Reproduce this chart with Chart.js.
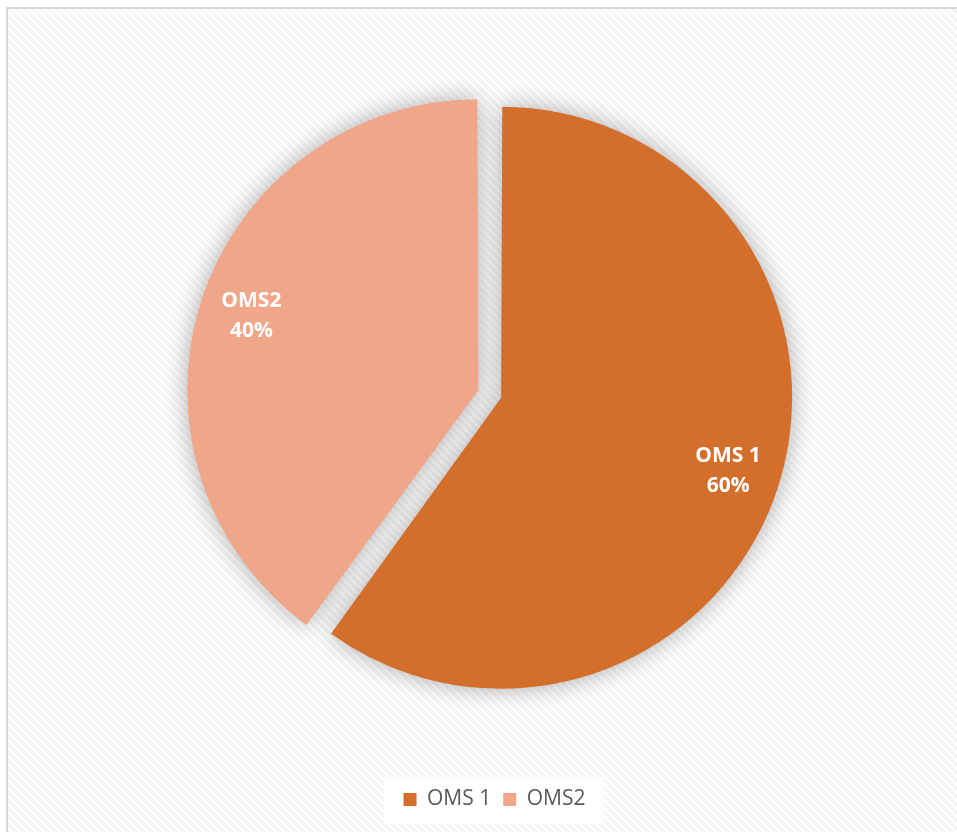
<!DOCTYPE html>
<html>
<head>
<meta charset="utf-8">
<title>OMS</title>
<script src="https://cdn.jsdelivr.net/npm/chart.js@4.4.1/dist/chart.umd.min.js"></script>
<style>
    html, body { margin: 0; padding: 0; background: #ffffff; }
    #wrap { position: relative; width: 957px; height: 832px; }
</style>
</head>
<body>
<div id="wrap"><canvas id="myChart"></canvas></div>
<script>
var labels = ['OMS 1', 'OMS2'];
var shares = [60, 40];
var sliceColors = ['#D36E2B', '#F0A689'];
// pull-out per slice (the smaller slice grows less with offset, so it gets pulled further)
var sliceOffsets = [28, 68];

// striped fill for the chart frame
function makeStripes() {
    var c = document.createElement('canvas');
    c.width = 8; c.height = 8;
    var g = c.getContext('2d');
    g.fillStyle = '#ffffff';
    g.fillRect(0, 0, 8, 8);
    g.strokeStyle = 'rgba(0,0,0,0.045)';
    g.lineWidth = 3;
    g.beginPath();
    g.moveTo(-2, -2); g.lineTo(10, 10);
    g.moveTo(-2, 6); g.lineTo(2, 10);
    g.moveTo(6, -2); g.lineTo(10, 2);
    g.stroke();
    return c;
}
var stripes = makeStripes();

var frameBackground = {
    id: 'frameBackground',
    beforeDraw: function (chart) {
        var ctx = chart.ctx;
        ctx.save();
        ctx.fillStyle = '#ffffff';
        ctx.fillRect(0, 0, chart.width, chart.height);
        ctx.fillStyle = ctx.createPattern(stripes, 'repeat');
        ctx.fillRect(7, 8, chart.width - 7, chart.height - 8);
        ctx.fillStyle = '#d9d9d9';
        ctx.fillRect(6, 7, chart.width - 6, 2);
        ctx.fillRect(6, 7, 2, chart.height - 7);

        // white panel behind the legend
        var boxes = chart.legend.legendHitBoxes;
        if (boxes && boxes.length) {
            var l = boxes[0].left, r = boxes[boxes.length - 1].left + boxes[boxes.length - 1].width;
            var t = boxes[0].top;
            ctx.fillStyle = '#ffffff';
            ctx.fillRect(l - 20, t - 12, r - l + 38, boxes[0].height + 26);
        }
        ctx.restore();
    }
};

// soft shadow under the slices
var pieShadow = {
    id: 'pieShadow',
    beforeDatasetsDraw: function (chart) {
        var ctx = chart.ctx;
        ctx.save();
        ctx.shadowColor = 'rgba(0,0,0,0.32)';
        ctx.shadowBlur = 24;
        ctx.shadowOffsetX = 0;
        ctx.shadowOffsetY = 0;
    },
    afterDatasetsDraw: function (chart) {
        chart.ctx.restore();
    }
};

// category name and percent inside each slice
var sliceLabels = {
    id: 'sliceLabels',
    afterDatasetsDraw: function (chart) {
        var ctx = chart.ctx;
        var meta = chart.getDatasetMeta(0);
        var total = shares.reduce(function (a, b) { return a + b; }, 0);
        ctx.save();
        ctx.fillStyle = '#ffffff';
        ctx.font = 'bold 21px "Open Sans", "Noto Sans", sans-serif';
        ctx.textAlign = 'center';
        ctx.textBaseline = 'middle';
        meta.data.forEach(function (arc, i) {
            var p = arc.getProps(['x', 'y', 'startAngle', 'endAngle', 'outerRadius', 'circumference'], true);
            var mid = (p.startAngle + p.endAngle) / 2;
            var off = (arc.options.offset || 0) / 4;
            var fix = 1 - Math.sin(Math.min(Math.PI, p.circumference));
            var r = (p.outerRadius + off * fix) * 0.82 + off;
            var x = p.x + Math.cos(mid) * r;
            var y = p.y + Math.sin(mid) * r;
            ctx.fillText(labels[i], x, y - 15);
            ctx.fillText(Math.round(shares[i] / total * 100) + '%', x, y + 15);
        });
        ctx.restore();
    }
};

var ctx = document.getElementById('myChart').getContext('2d');
var myChart = new Chart(ctx, {
    type: 'pie',
    data: {
        labels: labels,
        datasets: [{
            data: shares,
            backgroundColor: sliceColors,
            borderWidth: 0,
            offset: sliceOffsets,
            radius: 284
        }]
    },
    options: {
        responsive: true,
        maintainAspectRatio: false,
        animation: false,
        events: [],
        layout: {
            padding: { left: 32, right: 0, top: 14, bottom: 12 }
        },
        plugins: {
            tooltip: { enabled: false },
            legend: {
                position: 'bottom',
                labels: {
                    boxWidth: 13,
                    boxHeight: 13,
                    padding: 12,
                    color: '#595959',
                    font: { family: '"Open Sans", "Noto Sans", sans-serif', size: 21 }
                }
            }
        }
    },
    plugins: [frameBackground, pieShadow, sliceLabels]
});
</script>
</body>
</html>
